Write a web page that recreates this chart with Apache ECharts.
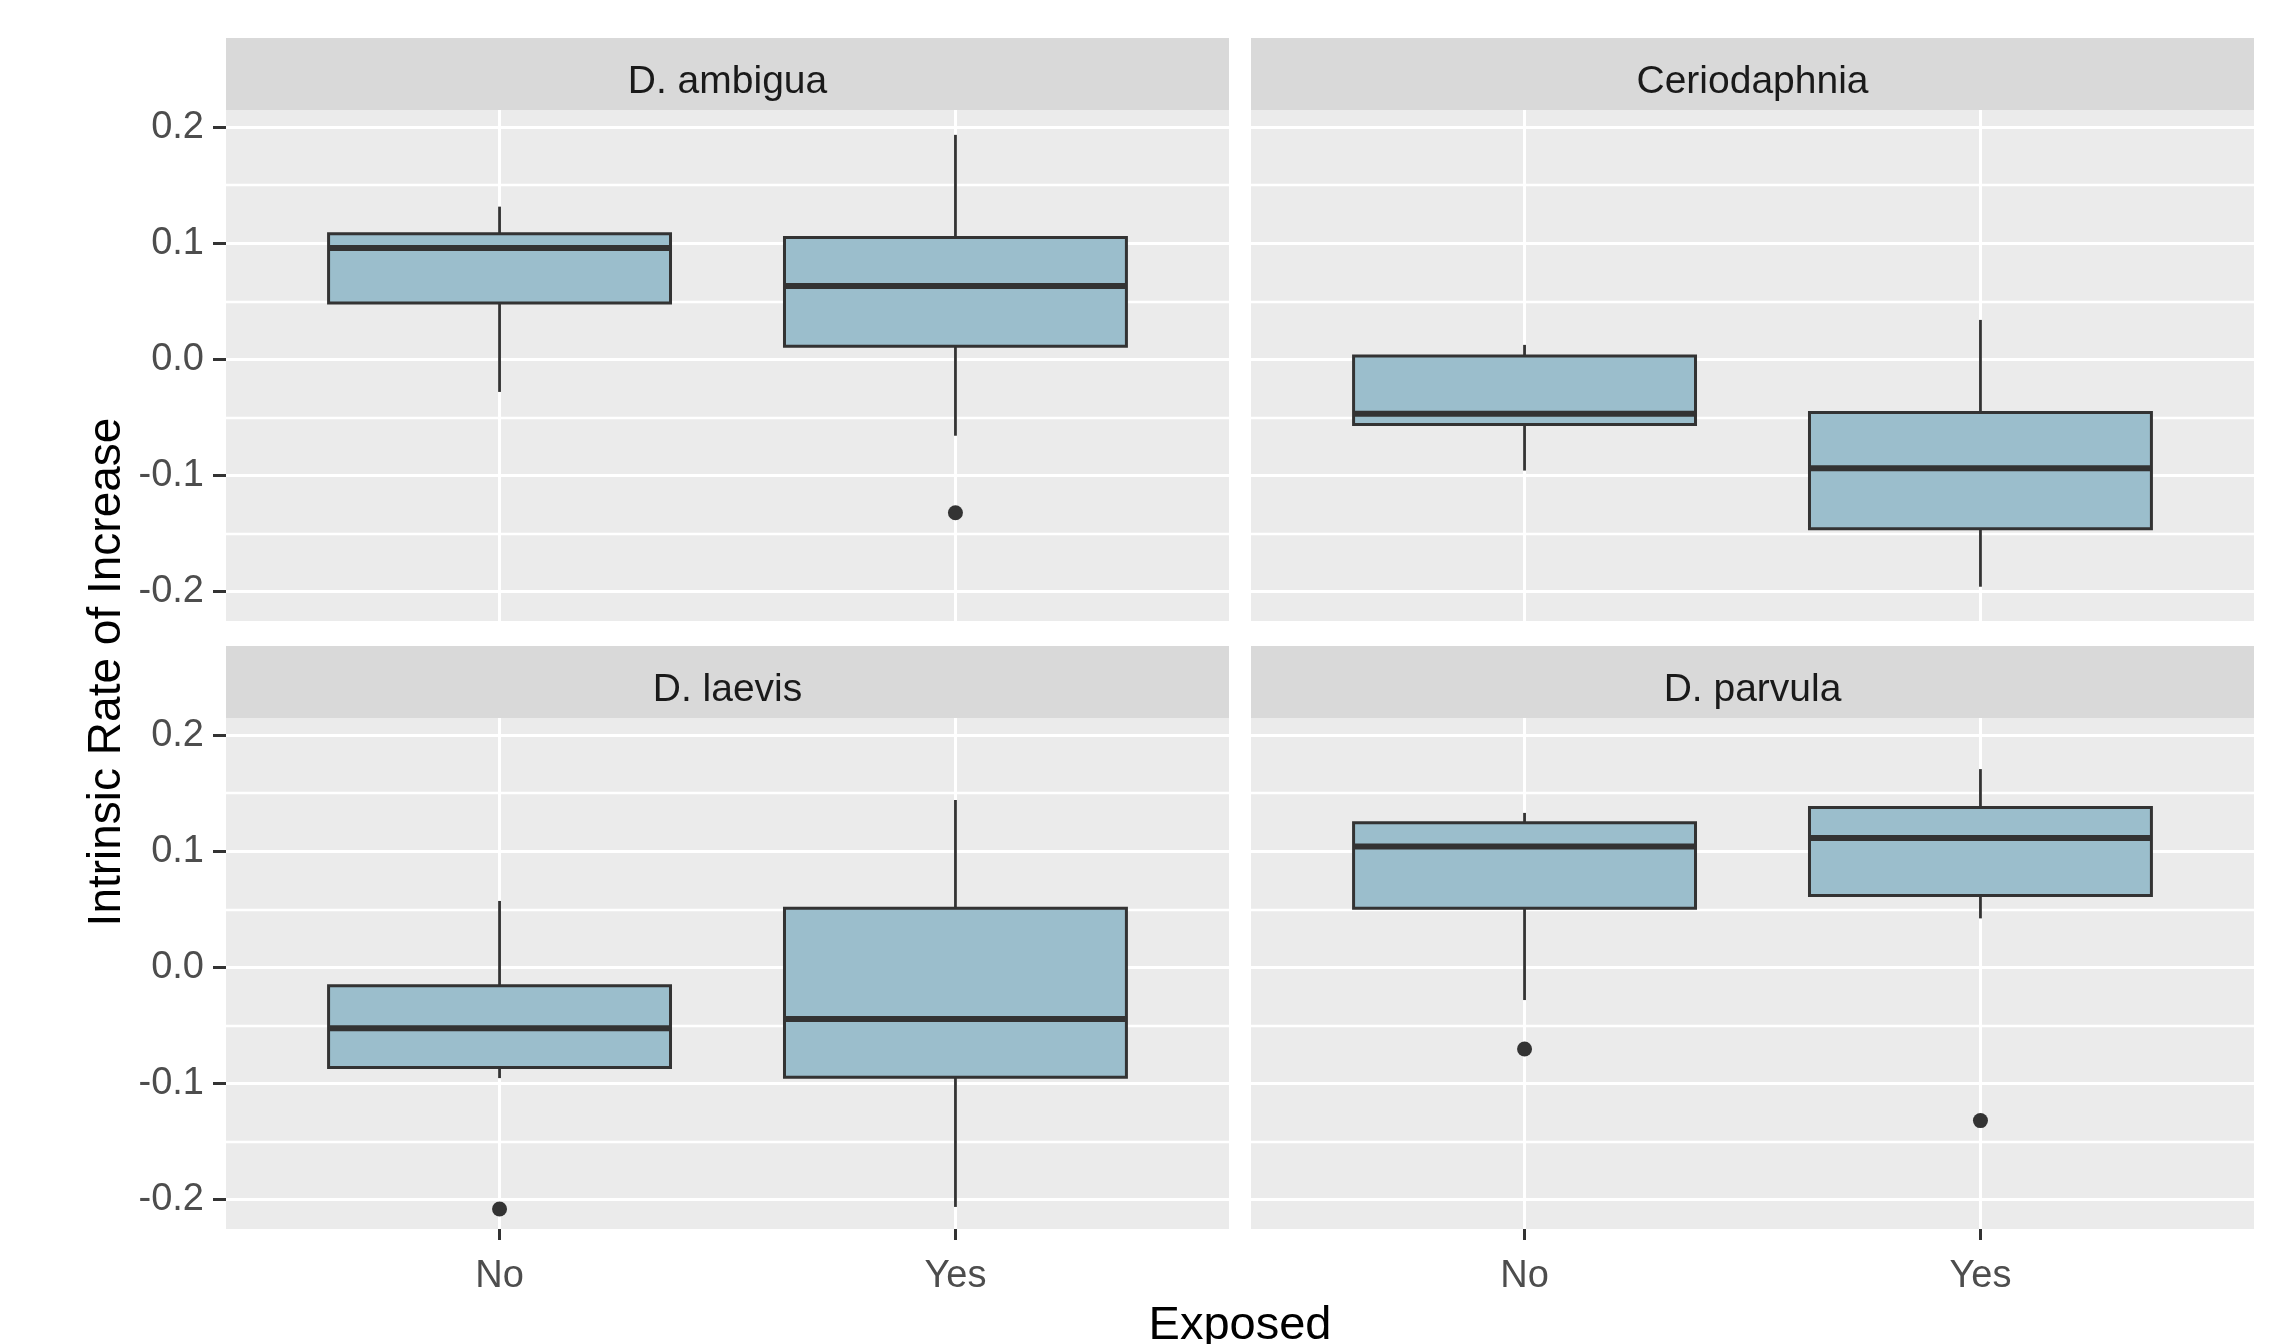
<!DOCTYPE html>
<html>
<head>
<meta charset="utf-8">
<script src="https://cdn.jsdelivr.net/npm/echarts@6/dist/echarts.min.js"></script>
<style>
  html, body { margin: 0; padding: 0; background: #ffffff; }
  #chart { width: 2277px; height: 1344px; }
</style>
</head>
<body>
<div id="chart"></div>
<script>
// ---------------- data ----------------
const panelNames = ['D. ambigua', 'Ceriodaphnia', 'D. laevis', 'D. parvula'];
const categories = ['No', 'Yes'];
const yTickValues = [-0.2, -0.1, 0.0, 0.1, 0.2];
const yTickLabels = ['-0.2', '-0.1', '0.0', '0.1', '0.2'];
const yMinorValues = [-0.15, -0.05, 0.05, 0.15];
const xTitle = 'Exposed';
const yTitle = 'Intrinsic Rate of Increase';

// box statistics per category: [lower whisker, Q1, median, Q3, upper whisker]
const ambiguaNo  = [-0.028, 0.0486, 0.096, 0.1082, 0.1315];
const ambiguaYes = [-0.0657, 0.0114, 0.0632, 0.1050, 0.1933];
const ceriodaphniaNo  = [-0.0957, -0.0560, -0.0468, 0.0029, 0.0125];
const ceriodaphniaYes = [-0.1957, -0.1457, -0.0936, -0.0457, 0.0340];
const laevisNo  = [-0.0953, -0.0862, -0.0524, -0.0158, 0.0572];
const laevisYes = [-0.2062, -0.0945, -0.0445, 0.0509, 0.1441];
const parvulaNo  = [-0.0281, 0.0510, 0.1040, 0.1246, 0.1330];
const parvulaYes = [0.0422, 0.0619, 0.1115, 0.1377, 0.1707];

// outliers: [category, value]
const ambiguaOutliers = [['Yes', -0.132]];
const ceriodaphniaOutliers = [];
const laevisOutliers = [['No', -0.208]];
const parvulaOutliers = [['No', -0.0703], ['Yes', -0.1319]];

const boxesByPanel = [
  [ambiguaNo, ambiguaYes],
  [ceriodaphniaNo, ceriodaphniaYes],
  [laevisNo, laevisYes],
  [parvulaNo, parvulaYes]
];
const outliersByPanel = [ambiguaOutliers, ceriodaphniaOutliers, laevisOutliers, parvulaOutliers];

// ---------------- layout / style ----------------
const FONT = '"Liberation Sans", Arial, sans-serif';
const panelW = 1003;
const panelH = 511;
const lefts = [226, 1251, 226, 1251];
const tops = [110, 110, 718, 718];
const stripH = 72;
const yMin = -0.2252, yMax = 0.2147;
const xMin = 0.4, xMax = 2.6;
const boxWidth = 0.75;
const boxFill = '#9BBECC';
const ink = '#333333';

const grids = [], xAxes = [], yAxes = [], series = [], graphics = [];

for (let i = 0; i < 4; i++) {
  const isBottom = i >= 2;
  const isLeft = i % 2 === 0;
  grids.push({
    left: lefts[i], top: tops[i], width: panelW, height: panelH,
    show: true, backgroundColor: '#EBEBEB', borderWidth: 0
  });
  xAxes.push({
    gridIndex: i, type: 'value', min: xMin, max: xMax, position: 'bottom',
    axisLine: { show: false, onZero: false },
    axisTick: { show: isBottom, customValues: [1, 2], length: 11, lineStyle: { color: ink, width: 3 } },
    axisLabel: {
      show: isBottom, customValues: [1, 2], margin: 29,
      formatter: v => categories[Math.round(v) - 1],
      fontSize: 38, color: '#4D4D4D', fontFamily: FONT
    },
    splitLine: { show: true, lineStyle: { color: '#FFFFFF', width: 3 } }
  });
  yAxes.push({
    gridIndex: i, type: 'value', min: yMin, max: yMax, position: 'left',
    axisLine: { show: false, onZero: false },
    axisTick: { show: isLeft, customValues: yTickValues, length: 13, lineStyle: { color: ink, width: 3 } },
    axisLabel: {
      show: isLeft, customValues: yTickValues, margin: 22,
      formatter: v => yTickLabels[yTickValues.findIndex(t => Math.abs(t - v) < 1e-9)],
      fontSize: 38, color: '#4D4D4D', fontFamily: FONT
    },
    splitLine: { show: true, lineStyle: { color: '#FFFFFF', width: 3 } }
  });

  // strip
  graphics.push({
    type: 'rect', left: lefts[i], top: tops[i] - stripH,
    shape: { width: panelW, height: stripH }, style: { fill: '#D9D9D9' }, silent: true
  });
  graphics.push({
    type: 'text', x: lefts[i] + panelW / 2, y: tops[i] - stripH / 2 + 8,
    style: { text: panelNames[i], font: '39px ' + FONT, fill: '#1A1A1A', textAlign: 'center', textVerticalAlign: 'middle' },
    silent: true
  });
}
// minor grid axes
for (let i = 0; i < 4; i++) {
  yAxes.push({
    gridIndex: i, type: 'value', min: yMin, max: yMax, position: 'left',
    axisLine: { show: false, onZero: false },
    axisTick: { show: false, customValues: yMinorValues },
    axisLabel: { show: false, customValues: yMinorValues },
    splitLine: { show: true, lineStyle: { color: '#FFFFFF', width: 2.4 } }
  });
}

function renderBox(params, api) {
  const x = api.value(0);
  const lo = api.coord([x, api.value(1)]);
  const q1 = api.coord([x, api.value(2)]);
  const md = api.coord([x, api.value(3)]);
  const q3 = api.coord([x, api.value(4)]);
  const hi = api.coord([x, api.value(5)]);
  const halfW = api.size([boxWidth, 0])[0] / 2;
  const cx = q1[0];
  return {
    type: 'group',
    children: [
      { type: 'line', shape: { x1: cx, y1: q3[1], x2: cx, y2: hi[1] },
        style: { stroke: ink, lineWidth: 2.8, fill: null } },
      { type: 'line', shape: { x1: cx, y1: q1[1], x2: cx, y2: lo[1] },
        style: { stroke: ink, lineWidth: 2.8, fill: null } },
      { type: 'rect', shape: { x: cx - halfW, y: q3[1], width: 2 * halfW, height: q1[1] - q3[1] },
        style: { fill: boxFill, stroke: ink, lineWidth: 3 } },
      { type: 'line', shape: { x1: cx - halfW, y1: md[1], x2: cx + halfW, y2: md[1] },
        style: { stroke: ink, lineWidth: 6, fill: null } }
    ]
  };
}

for (let i = 0; i < 4; i++) {
  const boxData = boxesByPanel[i].map((b, k) => [k + 1].concat(b));
  series.push({
    type: 'custom', xAxisIndex: i, yAxisIndex: i, z: 3,
    encode: { x: 0, y: [1, 2, 3, 4, 5] },
    data: boxData,
    renderItem: renderBox
  });
  const outData = outliersByPanel[i].map(o => [categories.indexOf(o[0]) + 1, o[1]]);
  if (outData.length) {
    series.push({
      type: 'scatter', xAxisIndex: i, yAxisIndex: i, z: 4,
      symbol: 'circle', symbolSize: 15,
      itemStyle: { color: ink, opacity: 1 },
      data: outData
    });
  }
}

// axis titles
graphics.push({
  type: 'text', x: 226 + (1251 + panelW - 226) / 2, y: 1326,
  style: { text: xTitle, font: '47px ' + FONT, fill: '#000000', textAlign: 'center', textVerticalAlign: 'middle' },
  silent: true
});
graphics.push({
  type: 'text', x: 107, y: 672, rotation: Math.PI / 2,
  style: { text: yTitle, font: '46px ' + FONT, fill: '#000000', textAlign: 'center', textVerticalAlign: 'middle' },
  silent: true
});

const chart = echarts.init(document.getElementById('chart'), null, { renderer: 'canvas' });
chart.setOption({
  animation: false,
  backgroundColor: '#FFFFFF',
  grid: grids,
  xAxis: xAxes,
  yAxis: yAxes,
  series: series,
  graphic: graphics
});
</script>
</body>
</html>
